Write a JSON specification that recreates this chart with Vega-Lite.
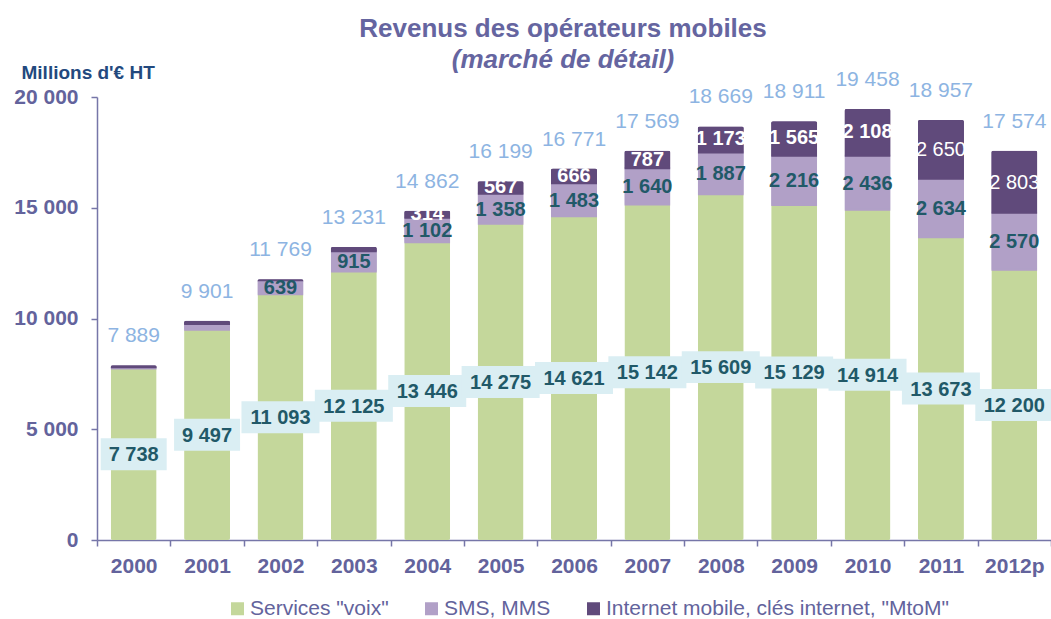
{
  "$schema": "https://vega.github.io/schema/vega-lite/v6.json",
  "width": 954,
  "height": 443,
  "autosize": {"type": "none"},
  "padding": {"left": 97, "top": 97, "right": 0, "bottom": 79},
  "background": "white",
  "config": {"view": {"stroke": null}, "font": "Liberation Sans"},
  "title": {
    "text": "Revenus des opérateurs mobiles",
    "subtitle": "(marché de détail)",
    "anchor": "middle",
    "frame": "group",
    "dx": -11,
    "offset": -10,
    "font": "Liberation Sans",
    "fontSize": 26,
    "fontWeight": "bold",
    "color": "#6565a0",
    "subtitleFont": "Liberation Sans",
    "subtitleFontSize": 26,
    "subtitleFontWeight": "bold",
    "subtitleFontStyle": "italic",
    "subtitleColor": "#6565a0",
    "subtitlePadding": 5
  },
  "data": {
    "values": [
      {"year": "2000", "voix": 7738, "sms": 60, "internet": 91, "total": 7889},
      {"year": "2001", "voix": 9497, "sms": 260, "internet": 144, "total": 9901},
      {"year": "2002", "voix": 11093, "sms": 639, "internet": 37, "total": 11769},
      {"year": "2003", "voix": 12125, "sms": 915, "internet": 191, "total": 13231},
      {"year": "2004", "voix": 13446, "sms": 1102, "internet": 314, "total": 14862},
      {"year": "2005", "voix": 14275, "sms": 1358, "internet": 567, "total": 16199},
      {"year": "2006", "voix": 14621, "sms": 1483, "internet": 666, "total": 16771},
      {"year": "2007", "voix": 15142, "sms": 1640, "internet": 787, "total": 17569},
      {"year": "2008", "voix": 15609, "sms": 1887, "internet": 1173, "total": 18669},
      {"year": "2009", "voix": 15129, "sms": 2216, "internet": 1565, "total": 18911},
      {"year": "2010", "voix": 14914, "sms": 2436, "internet": 2108, "total": 19458},
      {"year": "2011", "voix": 13673, "sms": 2634, "internet": 2650, "total": 18957},
      {"year": "2012p", "voix": 12200, "sms": 2570, "internet": 2803, "total": 17574}
    ]
  },
  "encoding": {
    "x": {
      "field": "year",
      "type": "ordinal",
      "scale": {"paddingInner": 0, "paddingOuter": 0},
      "axis": {
        "title": null,
        "labelAngle": 0,
        "labelFont": "Liberation Sans",
        "labelFontSize": 21,
        "labelFontWeight": "bold",
        "labelColor": "#63639c",
        "labelPadding": 9,
        "tickBand": "extent",
        "tickSize": 6,
        "tickWidth": 1.5,
        "tickColor": "#7676a8",
        "domainColor": "#7676a8",
        "domainWidth": 1.5
      }
    }
  },
  "layer": [
    {
      "transform": [
        {"fold": ["voix", "sms", "internet"], "as": ["serie", "value"]},
        {"calculate": "indexof(['voix','sms','internet'], datum.serie)", "as": "ord"}
      ],
      "mark": {"type": "bar", "cornerRadius": 2},
      "encoding": {
        "y": {
          "field": "value",
          "type": "quantitative",
          "stack": "zero",
          "scale": {"domain": [0, 20000], "nice": false},
          "axis": {
            "title": "Millions d'€ HT",
            "titleAngle": 0,
            "titleAlign": "left",
            "titleBaseline": "middle",
            "titleX": -76,
            "titleY": -25,
            "titleFont": "Liberation Sans",
            "titleFontSize": 19,
            "titleFontWeight": "bold",
            "titleColor": "#23497e",
            "values": [0, 5000, 10000, 15000, 20000],
            "labelExpr": "replace(format(datum.value, ','), ',', ' ')",
            "labelFont": "Liberation Sans",
            "labelFontSize": 21,
            "labelFontWeight": "bold",
            "labelColor": "#63639c",
            "labelPadding": 13,
            "tickSize": 6,
            "tickWidth": 1.5,
            "grid": false,
            "domainColor": "#7676a8",
            "domainWidth": 1.5,
            "tickColor": "#7676a8"
          }
        },
        "color": {
          "field": "serie",
          "type": "nominal",
          "scale": {"domain": ["voix", "sms", "internet"], "range": ["#c4d79b", "#b1a0c7", "#604a7b"]},
          "legend": {
            "orient": "none",
            "legendX": 130,
            "legendY": 501,
            "direction": "horizontal",
            "title": null,
            "symbolType": "square",
            "symbolSize": 169,
            "symbolStrokeWidth": 0,
            "labelFont": "Liberation Sans",
            "labelFontSize": 21,
            "labelColor": "#63639c",
            "labelLimit": 0,
            "columnPadding": 32,
            "labelOffset": 2,
            "labelExpr": "datum.label == 'voix' ? 'Services \"voix\"' : datum.label == 'sms' ? 'SMS, MMS' : 'Internet mobile, clés internet, \"MtoM\"'"
          }
        },
        "stroke": {
          "field": "serie",
          "type": "nominal",
          "scale": {"domain": ["voix", "sms", "internet"], "range": ["#c4d79b", "#b1a0c7", "#604a7b"]},
          "legend": null
        },
        "strokeWidth": {"condition": {"test": "datum.serie == 'voix'", "value": 0}, "value": 2},
        "size": {"condition": {"test": "datum.serie == 'voix'", "value": 44}, "value": 46},
        "order": {"field": "ord", "type": "quantitative"}
      }
    },
    {
      "transform": [{"calculate": "datum.voix / 2", "as": "pos"}],
      "mark": {"type": "point", "filled": true, "opacity": 1, "color": "#daeef3", "strokeWidth": 0},
      "encoding": {
        "y": {"field": "pos", "type": "quantitative", "scale": {"domain": [0, 20000], "nice": false}},
        "shape": {"condition": {"test": "datum.voix < 10000", "value": "M-1,-0.485H1V0.485H-1Z"}, "value": "M-1,-0.41H1V0.41H-1Z"},
        "size": {"condition": {"test": "datum.voix < 10000", "value": 4356}, "value": 6084}
      }
    },
    {
      "transform": [
        {"calculate": "datum.voix / 2", "as": "pos"},
        {"calculate": "replace(format(datum.voix, ','), ',', ' ')", "as": "lbl"}
      ],
      "mark": {"type": "text", "font": "Liberation Sans", "fontSize": 20, "fontWeight": "bold", "color": "#215968", "baseline": "middle", "dy": 1},
      "encoding": {
        "y": {"field": "pos", "type": "quantitative", "scale": {"domain": [0, 20000], "nice": false}},
        "text": {"field": "lbl", "type": "nominal"}
      }
    },
    {
      "transform": [
        {"filter": "datum.sms >= 500"},
        {"calculate": "datum.voix + datum.sms / 2", "as": "pos"},
        {"calculate": "replace(format(datum.sms, ','), ',', ' ')", "as": "lbl"}
      ],
      "mark": {"type": "text", "font": "Liberation Sans", "fontSize": 20, "fontWeight": "bold", "color": "#215968", "baseline": "middle", "dy": 1},
      "encoding": {
        "y": {"field": "pos", "type": "quantitative", "scale": {"domain": [0, 20000], "nice": false}},
        "text": {"field": "lbl", "type": "nominal"}
      }
    },
    {
      "transform": [
        {"filter": "datum.internet >= 300 && datum.year != '2011' && datum.year != '2012p'"},
        {"calculate": "datum.voix + datum.sms + datum.internet / 2", "as": "pos"},
        {"calculate": "replace(format(datum.internet, ','), ',', ' ')", "as": "lbl"}
      ],
      "mark": {"type": "text", "font": "Liberation Sans", "fontSize": 20, "fontWeight": "bold", "color": "white", "baseline": "middle", "dy": 0},
      "encoding": {
        "y": {"field": "pos", "type": "quantitative", "scale": {"domain": [0, 20000], "nice": false}},
        "text": {"field": "lbl", "type": "nominal"}
      }
    },
    {
      "transform": [
        {"filter": "datum.year == '2011' || datum.year == '2012p'"},
        {"calculate": "datum.voix + datum.sms + datum.internet / 2", "as": "pos"},
        {"calculate": "replace(format(datum.internet, ','), ',', ' ')", "as": "lbl"}
      ],
      "mark": {"type": "text", "font": "Liberation Sans", "fontSize": 20, "fontWeight": "normal", "color": "white", "baseline": "middle", "dy": 1},
      "encoding": {
        "y": {"field": "pos", "type": "quantitative", "scale": {"domain": [0, 20000], "nice": false}},
        "text": {"field": "lbl", "type": "nominal"}
      }
    },
    {
      "transform": [
        {"calculate": "datum.total", "as": "pos"},
        {"calculate": "replace(format(datum.total, ','), ',', ' ')", "as": "lbl"}
      ],
      "mark": {"type": "text", "font": "Liberation Sans", "fontSize": 21, "fontWeight": "normal", "color": "#8db4e2", "baseline": "middle", "dy": -29},
      "encoding": {
        "y": {"field": "pos", "type": "quantitative", "scale": {"domain": [0, 20000], "nice": false}},
        "text": {"field": "lbl", "type": "nominal"}
      }
    }
  ]
}
